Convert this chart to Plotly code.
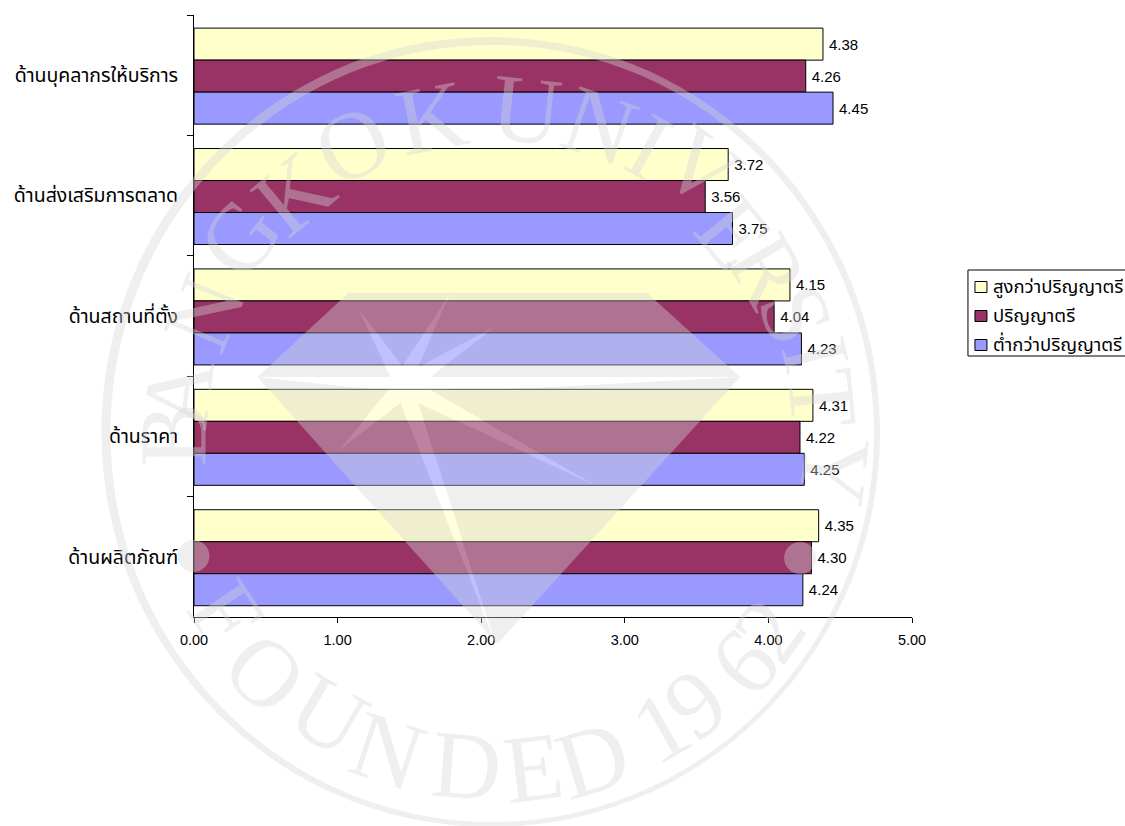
import math
import plotly.graph_objects as go

# Survey means by aspect and education level
categories = ["ด้านบุคลากรให้บริการ", "ด้านส่งเสริมการตลาด", "ด้านสถานที่ตั้ง", "ด้านราคา", "ด้านผลิตภัณฑ์"]
above_bachelor = [4.38, 3.72, 4.15, 4.31, 4.35]
bachelor = [4.26, 3.56, 4.04, 4.22, 4.30]
below_bachelor = [4.45, 3.75, 4.23, 4.25, 4.24]
series_names = ["สูงกว่าปริญญาตรี", "ปริญญาตรี", "ต่ำกว่าปริญญาตรี"]
series_colours = ["#FFFFCC", "#993366", "#9999FF"]
x_ticks = [0, 1, 2, 3, 4, 5]

WIDTH, HEIGHT = 1125, 826
LEFT, RIGHT, TOP, BOTTOM = 193.5, 912, 15, 617
SEAL = "rgba(213,213,213,0.39)"
STAR = "rgba(255,255,255,0.38)"
THAI = "Noto Sans Thai, Noto Sans, DejaVu Sans, sans-serif"
LATIN = "Liberation Sans, Arial, sans-serif"
SEAL_SIZE = 96
BAR_WIDTH = 0.2658
BAR_START = -0.391


def px(x):
    return (x - LEFT) / (RIGHT - LEFT)


def py(y):
    return 1 - (y - TOP) / (BOTTOM - TOP)


def ellipse(x0, y0, x1, y1):
    cx, cy, rx, ry = (x0 + x1) / 2, (y0 + y1) / 2, (x1 - x0) / 2, (y1 - y0) / 2
    k = 0.5523
    pts = [(cx + rx, cy),
           (cx + rx, cy + k * ry), (cx + k * rx, cy + ry), (cx, cy + ry),
           (cx - k * rx, cy + ry), (cx - rx, cy + k * ry), (cx - rx, cy),
           (cx - rx, cy - k * ry), (cx - k * rx, cy - ry), (cx, cy - ry),
           (cx + k * rx, cy - ry), (cx + rx, cy - k * ry), (cx + rx, cy)]
    s = f"M{px(pts[0][0])},{py(pts[0][1])}"
    for i in range(1, 13, 3):
        s += "C" + " ".join(f"{px(a)},{py(b)}" for a, b in pts[i:i + 3])
    return s + "Z"


def polygon(points):
    return "M" + "L".join(f"{px(a)},{py(b)}" for a, b in points) + "Z"


# Seal artwork: ring, two dots, gem with a lighter star across it
gem = [(348, 293), (647, 293), (740, 377), (497, 644), (257, 377)]
star = [(257, 377), (350, 387), (388, 390), (337, 452), (400, 403), (495, 643), (418, 403),
        (600, 488), (430, 390), (533, 388), (740, 377), (430, 377), (497, 325), (418, 367),
        (450, 293), (402, 366), (357, 307), (390, 377)]
seal_shapes = [
    dict(type="path", path=ellipse(101, 37, 880, 827) + ellipse(110, 45, 874, 822), fillcolor=SEAL),
    dict(type="path", path=ellipse(177, 540, 209, 572), fillcolor=SEAL),
    dict(type="path", path=ellipse(784, 542, 816, 574), fillcolor=SEAL),
    dict(type="path", path=polygon(gem) + polygon(star), fillcolor=SEAL),
    dict(type="path", path=polygon(star), fillcolor=STAR),
]

seal_top = list(zip("BANGKOKUNIVERSITY",
                    [(165, 435), (170, 393), (197, 310), (233, 233), (288, 188), (349, 138), (430, 110),
                     (527, 102), (602, 118), (653, 140), (706, 160), (740, 228), (775, 267), (803, 312),
                     (823, 353), (830, 398), (843, 472)]))
seal_bottom = list(zip("FOUNDED1962",
                       [(232, 608), (270, 667), (332, 708), (390, 743), (467, 758), (532, 760), (590, 752),
                        (657, 720), (690, 697), (738, 657), (763, 625)]))
CX, CY = 492, 433
notes = []


def seal_letter(ch, x, y, angle):
    # Capitals sit above the middle of the line box, so nudge the box along the letter's own axis
    t = math.radians(angle)
    d = 0.08 * SEAL_SIZE
    notes.append(dict(text=ch, x=px(x - math.sin(t) * d), y=py(y + math.cos(t) * d), textangle=angle,
                      font=dict(family="Liberation Serif, serif", size=SEAL_SIZE, color=SEAL)))


for ch, (x, y) in seal_top:
    seal_letter(ch, x, y, math.degrees(math.atan2(x - CX, CY - y)))
for ch, (x, y) in seal_bottom:
    seal_letter(ch, x, y, -math.degrees(math.atan2(x - CX, y - CY)))

# Key box at the right edge of the page
legend_box = (968, 270, 1140, 356)
legend_rows = [287, 316, 345]
legend_shapes = [dict(type="rect", x0=px(legend_box[0]), x1=px(legend_box[2]), y0=py(legend_box[1]), y1=py(legend_box[3]),
                      line=dict(color="black", width=1), fillcolor="white")]
for row, colour, name in zip(legend_rows, series_colours, series_names):
    legend_shapes.append(dict(type="rect", x0=px(975), x1=px(987), y0=py(row - 5.5), y1=py(row + 5.5),
                              line=dict(color="black", width=1), fillcolor=colour))
    notes.append(dict(text=name, x=px(991), y=py(row), xanchor="left",
                      font=dict(family=THAI, size=18.5, color="black")))
for a in notes:
    a.update(xref="paper", yref="paper", showarrow=False)
    a.setdefault("xanchor", "center")
    a.setdefault("yanchor", "middle")

shapes = seal_shapes + legend_shapes
for s in shapes:
    s.update(xref="paper", yref="paper", layer="above")
    if s["type"] == "path":
        s.update(line_width=0, fillrule="evenodd")

fig = go.Figure()
for i, (name, values, colour) in enumerate(zip(series_names, [above_bachelor, bachelor, below_bachelor], series_colours)):
    fig.add_trace(go.Bar(
        name=name, y=categories, x=values, orientation="h",
        width=BAR_WIDTH, offset=BAR_START + i * BAR_WIDTH,
        marker=dict(color=colour, line=dict(color="black", width=1)),
        texttemplate="\u2009%{x:.2f}", textposition="outside", cliponaxis=False,
        textfont=dict(family=LATIN, size=15, color="black"),
    ))

fig.update_layout(
    width=WIDTH, height=HEIGHT, autosize=False, showlegend=False,
    margin=dict(l=LEFT, r=WIDTH - RIGHT, t=TOP, b=HEIGHT - BOTTOM, pad=0),
    paper_bgcolor="white", plot_bgcolor="white",
    barmode="overlay",
    shapes=shapes, annotations=notes,
)
fig.update_xaxes(range=[0, 5], tickvals=x_ticks, tickformat=".2f", showgrid=False, zeroline=False,
                 showline=True, linecolor="black", linewidth=1, ticks="outside", ticklen=5,
                 tickcolor="black", ticklabelstandoff=5, tickfont=dict(family=LATIN, size=14.5, color="black"))
fig.update_yaxes(type="category", range=[4.5, -0.5], tickson="boundaries", showgrid=False,
                 showline=True, linecolor="black", linewidth=1, ticks="outside", ticklen=6,
                 tickcolor="black", ticklabelstandoff=11, tickfont=dict(family=THAI, size=19.5, color="black"))

fig.write_html("out.html")
